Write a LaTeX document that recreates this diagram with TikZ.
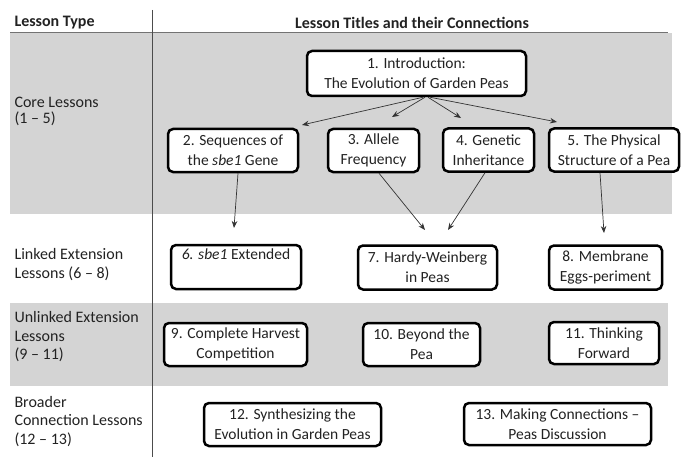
\documentclass[tikz,border=0pt]{standalone}
\usepackage{fontspec}
\setmainfont{Carlito}
\usetikzlibrary{arrows.meta}
\definecolor{band}{HTML}{D4D4D4}
\definecolor{ink}{HTML}{222222}
\begin{document}
\begin{tikzpicture}[x=1pt, y=-1pt,
  font=\fontsize{15.5}{20}\selectfont,
  lesson/.style={draw=black, line width=2.5pt, rounded corners=5pt, fill=white,
    align=center, inner sep=0pt, text=ink},
  conn/.style={-{Stealth[length=7pt,width=5.5pt]}, line width=0.7pt, black!80},
  rowlab/.style={anchor=west, align=left, text=ink, font=\fontsize{16}{18.5}\selectfont},
  headlab/.style={text=ink, font=\fontsize{16}{18}\selectfont\bfseries}]
\useasboundingbox (0,0) rectangle (684,457);
% bands and rules
\fill[band] (10,33) rectangle (672,214);
\fill[band] (10,303) rectangle (668,386);
\draw[black!55, line width=0.8pt] (10,32.5) -- (668,32.5);
\draw[black!70, line width=0.8pt] (152,10) -- (152,457);
% headers
\node[headlab, anchor=west] (hType) at (11,23) {Lesson Type};
\node[headlab] (hTitles) at (412,23) {Lesson Titles and their Connections};
% row labels
\node[rowlab, font=\fontsize{16}{16}\selectfont] (lCore) at (11,111) {Core Lessons\\(1 -- 5)};
\node[rowlab] (lLinked) at (11,264.5) {Linked Extension\\Lessons (6 -- 8)};
\node[rowlab] (lUnlinked) at (11,337) {Unlinked Extension\\Lessons\\(9 -- 11)};
\node[rowlab] (lBroad) at (11,421.5) {Broader\\Connection Lessons\\(12 -- 13)};
% lessons
\node[lesson, minimum width=219pt, minimum height=45pt] (n1) at (416.5,73.5) {1. Introduction:\\The Evolution of Garden Peas};
\node[lesson, minimum width=130pt, minimum height=43pt] (n2) at (233,150.5) {2. Sequences of\\the \textit{sbe1} Gene};
\node[lesson, minimum width=91pt, minimum height=43pt] (n3) at (373.5,150.5) {3. Allele\\Frequency};
\node[lesson, minimum width=91pt, minimum height=43pt] (n4) at (488.5,150) {4. Genetic\\Inheritance};
\node[lesson, minimum width=130pt, minimum height=43pt] (n5) at (614,150) {5. The Physical\\Structure of a Pea};
\node[lesson, minimum width=130pt, minimum height=44pt] (n6) at (236,267) {\textit{6. sbe1} Extended\\\strut};
\node[lesson, minimum width=139pt, minimum height=44pt] (n7) at (427.5,267.5) {7. Hardy-Weinberg\\in Peas};
\node[lesson, minimum width=113pt, minimum height=44pt] (n8) at (605.5,267.5) {8. Membrane\\Eggs-periment};
\node[lesson, minimum width=143pt, minimum height=43pt] (n9) at (235.5,344.5) {9. Complete Harvest\\Competition};
\node[lesson, minimum width=117pt, minimum height=43pt] (n10) at (421.5,344.5) {10. Beyond the\\Pea};
\node[lesson, minimum width=110pt, minimum height=42pt] (n11) at (604,343) {11. Thinking\\Forward};
\node[lesson, minimum width=177pt, minimum height=43pt] (n12) at (292.5,424.5) {12. Synthesizing the\\Evolution in Garden Peas};
\node[lesson, minimum width=187pt, minimum height=42pt] (n13) at (557.5,424) {13. Making Connections --\\Peas Discussion};
% arrow tips
\coordinate (t2) at (302,125);
\coordinate (t3) at (392,117);
\coordinate (t4) at (461,118);
\coordinate (t5) at (557,122);
\coordinate (t6) at (234,228);
\coordinate (t7a) at (425,230);
\coordinate (t7b) at (448,230);
\coordinate (t8) at (604,233);
% connectors
\draw[conn] ([xshift=6.5pt]n1.south) -- (t2);
\draw[conn] ([xshift=8.5pt]n1.south) -- (t3);
\draw[conn] ([xshift=11.5pt]n1.south) -- (t4);
\draw[conn] ([xshift=13.5pt]n1.south) -- (t5);
\draw[conn] ([xshift=5pt]n2.south) -- (t6);
\draw[conn] ([xshift=5.5pt]n3.south) -- (t7a);
\draw[conn] ([xshift=-3.5pt]n4.south) -- (t7b);
\draw[conn] ([xshift=-14pt]n5.south) -- (t8);
\end{tikzpicture}
\end{document}
